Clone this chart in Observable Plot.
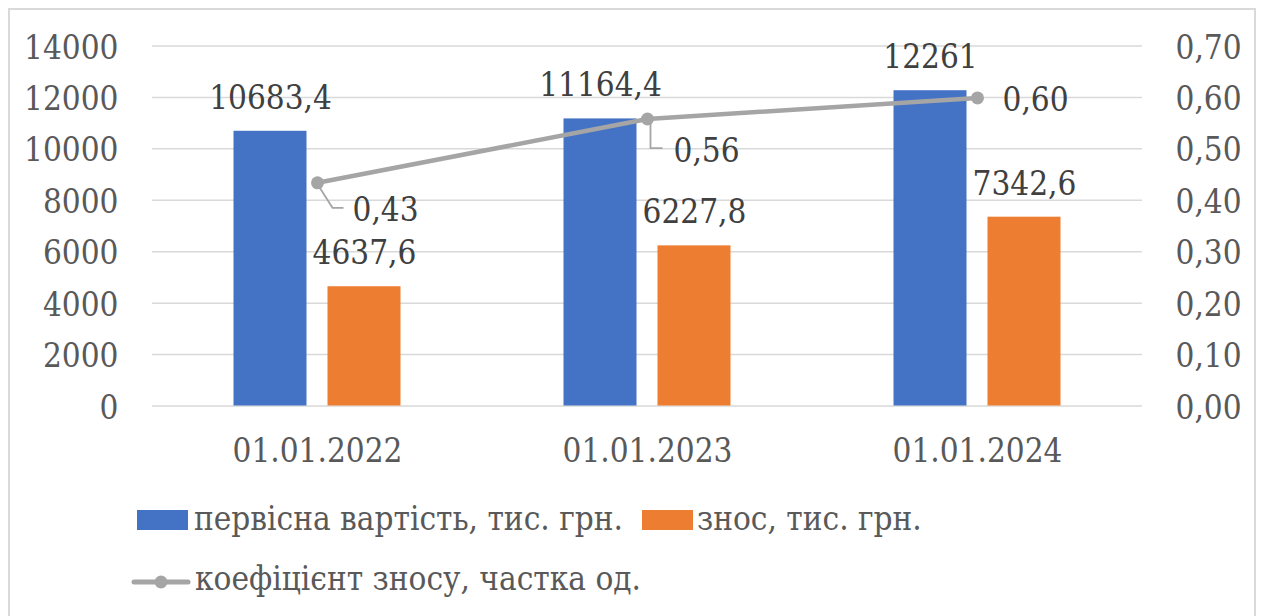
<!DOCTYPE html>
<html>
<head>
<meta charset="utf-8">
<script src="https://cdn.jsdelivr.net/npm/d3@7"></script>
<script src="https://cdn.jsdelivr.net/npm/@observablehq/plot@0.6"></script>
<style>
  html, body { margin: 0; padding: 0; background: #fff; overflow: hidden; }
  #wrap { position: relative; width: 1261px; height: 616px; overflow: hidden; }
  #frame { position: absolute; left: 8px; top: 8px; width: 1248px; height: 700px; box-sizing: border-box; border: 2px solid #d9d9d9; }
  #chart { position: absolute; left: 0; top: 0; }
  #legend { position: absolute; left: 0; top: 490px; }
</style>
</head>
<body>
<div id="wrap">
  <div id="frame"></div>
  <div id="chart"></div>
  <div id="legend"></div>
</div>
<script>
// ---- data ----
const categories = ["01.01.2022", "01.01.2023", "01.01.2024"];
const initialCost = [10683.4, 11164.4, 12261];      // первісна вартість, тис. грн.
const depreciation = [4637.6, 6227.8, 7342.6];      // знос, тис. грн.
const wearRatio = [0.434, 0.558, 0.599];            // коефіцієнт зносу, частка од.
const leftTicks = [0, 2000, 4000, 6000, 8000, 10000, 12000, 14000];
const rightTicks = [0, 0.1, 0.2, 0.3, 0.4, 0.5, 0.6, 0.7];
const seriesNames = ["первісна вартість, тис. грн.", "знос, тис. грн.", "коефіцієнт зносу, частка од."];

// ---- styling / layout ----
const colors = ["#4472c4", "#ed7d31", "#a5a5a5"];
const FONT = "DejaVu Serif Condensed";
const FS = 33;
const RATIO_SCALE = 14000 / 0.7; // right axis 0..0,70 aligned with left 0..14000
const fmtVal = d => String(d).replace(".", ",");
const fmtRatio = d => d.toFixed(2).replace(".", ",");

const rows = categories.map((c, i) => ({
  date: c, cost: initialCost[i], dep: depreciation[i], ratio: wearRatio[i], idx: i
}));

// pixel offsets for ratio labels and their leader lines
const ratioLabelOffsets = [[35, 28], [26, 32], [25, 2]];
const leaderPaths = [
  [[1, 3], [15, 25], [26, 25]],
  [[3, 4], [3, 29], [15, 29]],
  null
];

const txt = {fontFamily: FONT, fontSize: FS};

const marks = [
  Plot.gridY(leftTicks, {stroke: "#d9d9d9", strokeOpacity: 1, strokeWidth: 1.5}),
  Plot.barY(rows, {x: "date", y: "cost", fill: colors[0], insetLeft: 128.5, insetRight: 128.5, dx: -47}),
  Plot.barY(rows, {x: "date", y: "dep", fill: colors[1], insetLeft: 128.5, insetRight: 128.5, dx: 47}),
  Plot.text(rows, {x: "date", y: "cost", text: d => fmtVal(d.cost), dx: -47, dy: -33, fill: "#404040", lineAnchor: "middle", ...txt}),
  Plot.text(rows, {x: "date", y: "dep", text: d => fmtVal(d.dep), dx: 47, dy: -33, fill: "#404040", lineAnchor: "middle", ...txt}),
  Plot.line(rows, {x: "date", y: d => d.ratio * RATIO_SCALE, stroke: colors[2], strokeWidth: 4.5}),
  Plot.dot(rows, {x: "date", y: d => d.ratio * RATIO_SCALE, r: 6.5, fill: colors[2], stroke: "none"}),
  Plot.axisY({anchor: "left", ticks: leftTicks, tickSize: 0, tickPadding: 34, tickFormat: d => String(d), dy: 2, ...txt}),
  Plot.axisY({anchor: "right", ticks: rightTicks.map(t => t * RATIO_SCALE), tickSize: 0, tickPadding: 33, tickFormat: d => fmtRatio(d / RATIO_SCALE), dy: 2, ...txt}),
  Plot.axisX({anchor: "bottom", tickSize: 0, tickPadding: 33, ...txt})
];

rows.forEach((r, i) => {
  const lp = leaderPaths[i];
  if (lp) {
    const sym = {draw(ctx) { ctx.moveTo(lp[0][0], lp[0][1]); for (let k = 1; k < lp.length; k++) ctx.lineTo(lp[k][0], lp[k][1]); }};
    marks.push(Plot.dot([r], {x: "date", y: d => d.ratio * RATIO_SCALE, symbol: sym, r: 5, fill: "none", stroke: colors[2], strokeWidth: 1.8}));
  }
  const [dx, dy] = ratioLabelOffsets[i];
  marks.push(Plot.text([r], {x: "date", y: d => d.ratio * RATIO_SCALE, text: d => fmtRatio(d.ratio), dx, dy, textAnchor: "start", lineAnchor: "middle", fill: "#404040", ...txt}));
});

const chart = Plot.plot({
  width: 1261,
  height: 490,
  marginLeft: 152,
  marginRight: 119,
  marginTop: 45.5,
  marginBottom: 84.5,
  style: {fontFamily: FONT, fontSize: FS + "px", color: "#595959", background: "transparent", overflow: "visible"},
  x: {type: "band", domain: categories, padding: 0, label: null},
  y: {domain: [0, 14000], label: null},
  marks
});
document.getElementById("chart").appendChild(chart);

// ---- legend (below the plot) ----
const lg = d3.select("#legend").append("svg").attr("width", 1261).attr("height", 126)
  .attr("font-family", FONT).attr("font-size", FS);
lg.append("rect").attr("x", 137).attr("y", 20).attr("width", 51).attr("height", 20).attr("fill", colors[0]);
lg.append("text").attr("x", 194).attr("y", 40).attr("fill", "#595959").attr("font-family", FONT).text(seriesNames[0]);
lg.append("rect").attr("x", 642).attr("y", 20).attr("width", 51).attr("height", 20).attr("fill", colors[1]);
lg.append("text").attr("x", 697).attr("y", 40).attr("fill", "#595959").attr("font-family", FONT).text(seriesNames[1]);
lg.append("line").attr("x1", 134).attr("x2", 188).attr("y1", 92).attr("y2", 92)
  .attr("stroke", colors[2]).attr("stroke-width", 5).attr("stroke-linecap", "round");
lg.append("circle").attr("cx", 161).attr("cy", 92).attr("r", 6.5).attr("fill", colors[2]);
lg.append("text").attr("x", 195).attr("y", 100).attr("fill", "#595959").attr("font-family", FONT).text(seriesNames[2]);
</script>
</body>
</html>
